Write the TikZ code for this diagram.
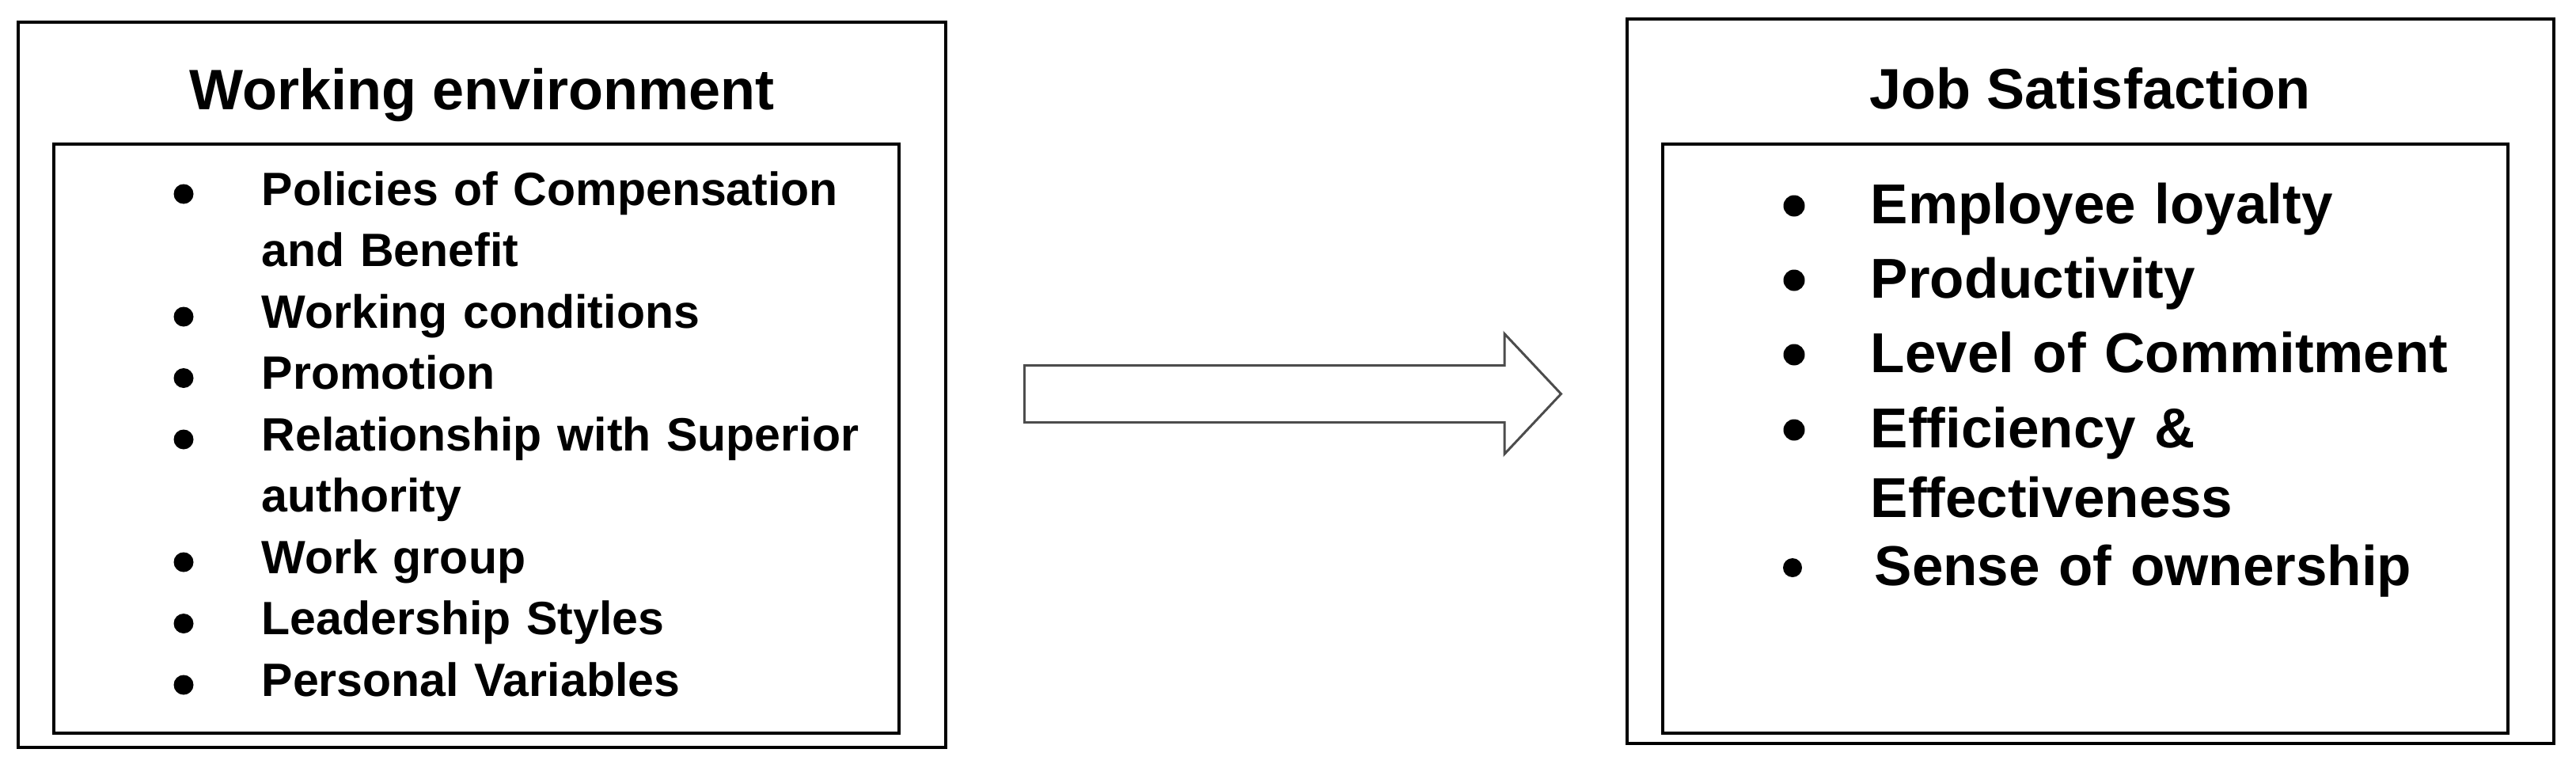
\documentclass[tikz,border=0pt]{standalone}
\usepackage{fontspec}
\setmainfont{Liberation Sans}
\usetikzlibrary{shapes.arrows}

\begin{document}
\begin{tikzpicture}[x=1cm,y=1cm]
  \tikzstyle{outer box}=[rectangle,draw=black,line width=1.15pt,inner sep=0pt]
  \tikzstyle{inner box}=[outer box]
  \tikzstyle{title}=[anchor=base,inner sep=0pt,font=\bfseries\fontsize{20.5}{24}\selectfont]
  \tikzstyle{left item}=[anchor=base west,inner sep=0pt,text width=9cm,align=left,
                         font=\bfseries\fontsize{16.8}{22}\selectfont]
  \tikzstyle{right item}=[anchor=base west,inner sep=0pt,text width=9cm,align=left,
                          font=\bfseries\fontsize{20.2}{25.3}\selectfont]
  \tikzstyle{dot}=[circle,fill=black,inner sep=0pt,minimum size=2.5mm]

  \useasboundingbox (0,0) rectangle (32.55,-9.70);

  % working environment
  \node [outer box,minimum width=11.72cm,minimum height=9.16cm] (wenv) at (6.09,-4.86) {};
  \node [inner box,minimum width=10.68cm,minimum height=7.44cm] (wlist) at (6.02,-5.54) {};
  \node [title] (wtitle) at (6.09,-1.38) {Working environment};

  \node [left item] (w1) at (3.30,-2.59) {Policies of Compensation\\and Benefit};
  \node [left item] (w2) at (3.30,-4.14) {Working conditions};
  \node [left item] (w3) at (3.30,-4.915) {Promotion};
  \node [left item] (w4) at (3.30,-5.69) {Relationship with Superior\\authority};
  \node [left item] (w5) at (3.30,-7.24) {Work group};
  \node [left item] (w6) at (3.30,-8.015) {Leadership Styles};
  \node [left item] (w7) at (3.30,-8.79) {Personal Variables};

  \node [dot] (wd1) at ([shift={(-0.98,0.14)}]w1.base west) {};
  \node [dot] (wd2) at ([shift={(-0.98,0.14)}]w2.base west) {};
  \node [dot] (wd3) at ([shift={(-0.98,0.14)}]w3.base west) {};
  \node [dot] (wd4) at ([shift={(-0.98,0.14)}]w4.base west) {};
  \node [dot] (wd5) at ([shift={(-0.98,0.14)}]w5.base west) {};
  \node [dot] (wd6) at ([shift={(-0.98,0.14)}]w6.base west) {};
  \node [dot] (wd7) at ([shift={(-0.98,0.14)}]w7.base west) {};

  % job satisfaction
  \node [outer box,minimum width=11.71cm,minimum height=9.15cm] (jsat) at (26.415,-4.815) {};
  \node [inner box,minimum width=10.68cm,minimum height=7.44cm] (jlist) at (26.35,-5.54) {};
  \node [title] (jtitle) at (26.41,-1.37) {Job Satisfaction};

  \node [right item] (j1) at (23.63,-2.82) {Employee loyalty};
  \node [right item] (j2) at (23.63,-3.76) {Productivity};
  \node [right item] (j3) at (23.63,-4.70) {Level of Commitment};
  \node [right item] (j4) at (23.63,-5.65) {Efficiency \&\\Effectiveness};
  \node [right item] (j5) at (23.68,-7.39) {Sense of ownership};

  \node [dot,minimum size=2.7mm] (jd1) at ([shift={(-0.96,0.22)}]j1.base west) {};
  \node [dot,minimum size=2.7mm] (jd2) at ([shift={(-0.96,0.22)}]j2.base west) {};
  \node [dot,minimum size=2.7mm] (jd3) at ([shift={(-0.96,0.22)}]j3.base west) {};
  \node [dot,minimum size=2.7mm] (jd4) at ([shift={(-0.96,0.22)}]j4.base west) {};
  \node [dot,minimum size=2.4mm] (jd5) at ([shift={(-1.03,0.22)}]j5.base west) {};

  % block arrow
  \node [single arrow,draw=black!70,line width=0.85pt,anchor=tail,
         inner xsep=0pt,inner ysep=0.345cm,minimum height=6.78cm,
         single arrow head extend=0.4cm,single arrow tip angle=93.5] (link) at (12.93,-4.975) {};
\end{tikzpicture}
\end{document}
